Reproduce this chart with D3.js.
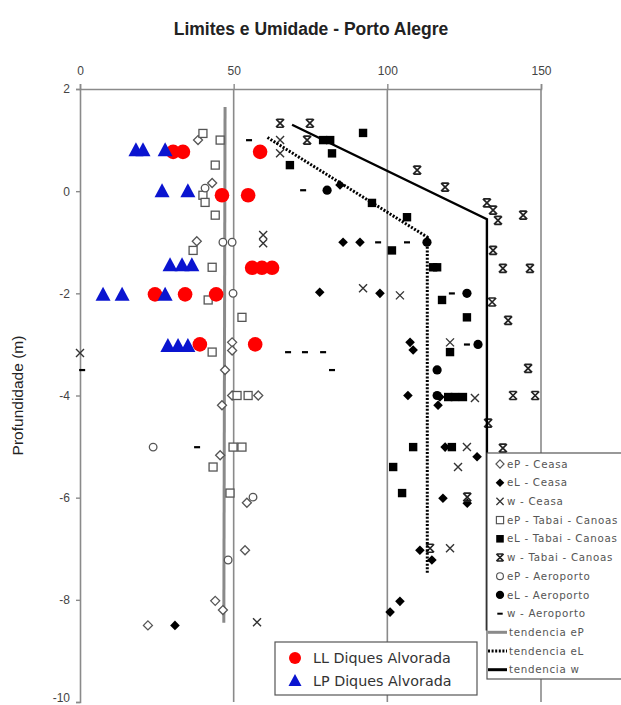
<!DOCTYPE html>
<html>
<head>
<meta charset="utf-8">
<script src="https://cdn.jsdelivr.net/npm/d3@7"></script>
<style>
  html, body { margin: 0; padding: 0; background: #fff; }
  svg { display: block; }
</style>
</head>
<body>
<svg id="chart" width="621" height="705"></svg>
<script>
// Tick values for both axes
const xTicks = [0, 50, 100, 150];
const yTicks = [2, 0, -2, -4, -6, -8, -10];

// Series: [moisture/limit value, depth (m)]
const epCeasa = [[38.4,1.0],[43,0.16],[38,-0.98],[49.5,-2.96],[49.5,-3.12],[47.2,-3.5],[49.5,-4.0],[58,-4.0],
  [46.2,-4.19],[45.6,-5.17],[54.3,-6.1],[53.7,-7.03],[44,-8.02],[46.5,-8.2],[22.1,-8.5]];
const elCeasa = [[84.6,0.12],[85.6,-1.0],[91.1,-1.0],[78,-1.98],[97.6,-2.0],[107.4,-2.96],[108.4,-3.11],
  [106.7,-4.0],[116.5,-4.19],[117.1,-4.03],[118.8,-5.01],[129.2,-5.2],[118.1,-6.01],[126,-6.11],
  [110.6,-7.03],[114.5,-7.22],[100.9,-8.24],[104.1,-8.03],[30.9,-8.5]];
const wCeasa = [[65.1,1.0],[65.1,0.74],[59.6,-0.86],[59.6,-1.02],[92.1,-1.9],[104.1,-2.04],[120.4,-2.96],
  [0,-3.17],[128.5,-4.05],[125.9,-5.01],[123,-5.4],[120.4,-6.99],[57.6,-8.44]];
const epTabai = [[40,1.13],[45.6,1.0],[44,0.51],[40,-0.08],[40.7,-0.22],[44,-0.47],[36.8,-1.16],[43,-1.49],
  [41.7,-2.13],[52.7,-2.47],[43,-3.15],[51.1,-4.0],[54.7,-4.0],[49.8,-5.01],[52.7,-5.01],[43.3,-5.4],[48.8,-5.91]];
const elTabai = [[79.1,1.0],[81.4,1.0],[92.1,1.14],[82,0.74],[68.3,0.51],[95,-0.23],[106.4,-0.51],[101.5,-1.16],
  [114.9,-1.49],[116.2,-1.49],[117.8,-2.13],[125.9,-2.47],[120.4,-3.15],[119.8,-4.03],[122,-4.03],[124.6,-4.03],
  [108.4,-5.01],[121,-5.01],[101.9,-5.4],[104.8,-5.91]];
const wTabai = [[65.1,1.33],[74.8,1.33],[73.9,1.0],[109.7,0.41],[118.8,0.08],[132.4,-0.23],[134.4,-0.37],
  [136,-0.57],[144.2,-0.47],[134.4,-1.16],[137.6,-1.51],[146.4,-1.51],[134.1,-2.17],[139.3,-2.53],
  [145.8,-3.47],[140.9,-4.0],[148.1,-4.0],[132.8,-4.54],[137.6,-5.03],[126,-5.99],[113.9,-6.99]];
const epAeroporto = [[46.5,-1.0],[49.5,-1.0],[49.8,-2.0],[23.8,-5.01],[56.3,-5.99],[40.7,0.06],[48.2,-7.22]];
const elAeroporto = [[80.4,0.02],[112.9,-1.0],[125.9,-2.0],[129.5,-3.0],[116.2,-3.5],[116.2,-4.0]];
const wAeroporto = [[55,1.0],[72.6,0.02],[97,-1.0],[106.4,-1.0],[121,-2.0],[125.9,-3.0],[67.7,-3.15],
  [73.2,-3.15],[79.1,-3.15],[82,-3.5],[0.7,-3.5],[38.1,-5.01]];
const llDiques = [[30.3,0.77],[33.5,0.77],[58.6,0.77],[46.2,-0.08],[54.7,-0.08],[56,-1.5],[59.2,-1.5],[62.5,-1.5],
  [24.4,-2.02],[34.2,-2.02],[44.3,-2.02],[39,-3.0],[57,-3.0]];
const lpDiques = [[18.2,0.8],[20.5,0.8],[27.7,0.8],[26.7,0.0],[35.1,0.0],[29.3,-1.45],[33.2,-1.45],[36.4,-1.45],
  [7.5,-2.03],[13.7,-2.03],[27.7,-2.03],[28.6,-3.03],[31.9,-3.03],[35.1,-3.03]];

// Trend lines
const trendEP = [[47.2,1.65],[46.8,-8.45]];
const trendWL = [[61,1.05],[113,-0.9],[113,-7.5]];
const trendW = [[69,1.3],[132.4,-0.55],[132.4,-8.6]];

// Legend labels
const legendLabels = ["eP - Ceasa","eL - Ceasa","w - Ceasa","eP - Tabai - Canoas","eL - Tabai - Canoas",
  "w - Tabai - Canoas","eP - Aeroporto","eL - Aeroporto","w - Aeroporto","tendencia eP","tendencia eL","tendencia w"];
const diquesLabels = ["LL Diques Alvorada","LP Diques Alvorada"];

const svg = d3.select("#chart");
const font = "'Liberation Sans', Arial, sans-serif";
const x = d3.scaleLinear().domain([0, 150]).range([80, 541]);
const y = d3.scaleLinear().domain([-10, 2]).range([702, 89]);
const gridColor = "#8a8a8a";

// Title
svg.append("text").attr("x", 311).attr("y", 35).attr("text-anchor", "middle")
  .attr("font-family", font).attr("font-weight", "bold").attr("font-size", 17.5)
  .attr("fill", "#222").text("Limites e Umidade - Porto Alegre");

// Vertical grid lines
svg.append("g").selectAll("line").data(xTicks.slice(1)).join("line")
  .attr("x1", d => x(d)).attr("x2", d => x(d)).attr("y1", y(2)).attr("y2", y(-10))
  .attr("stroke", gridColor).attr("stroke-width", 1.6);

// Top x axis
const xAxis = svg.append("g").attr("transform", `translate(0,${y(2)})`)
  .call(d3.axisTop(x).tickValues(xTicks).tickSize(5).tickPadding(9).tickFormat(d => String(d)));
xAxis.select(".domain").attr("stroke", gridColor).attr("stroke-width", 1.6);
xAxis.selectAll(".tick line").attr("stroke", gridColor).attr("stroke-width", 1.4);
xAxis.selectAll("text").attr("font-family", font).attr("font-size", 12).attr("fill", "#444");

// Left y axis
const yAxis = svg.append("g").attr("transform", `translate(${x(0)},0)`)
  .call(d3.axisLeft(y).tickValues(yTicks).tickSize(4).tickPadding(6).tickFormat(d => String(d)));
yAxis.select(".domain").attr("stroke", gridColor).attr("stroke-width", 1.6);
yAxis.selectAll(".tick line").attr("stroke", gridColor).attr("stroke-width", 1.4);
yAxis.selectAll("text").attr("font-family", font).attr("font-size", 12).attr("fill", "#444");
// keep the bottom label inside the frame
yAxis.selectAll(".tick").filter(d => d === -10).select("text").attr("dy", "-0.05em");

// Y axis title
svg.append("text").attr("transform", `translate(23,${(y(2)+y(-10))/2}) rotate(-90)`)
  .attr("text-anchor", "middle").attr("font-family", font).attr("font-size", 15.5)
  .attr("fill", "#222").text("Profundidade (m)");

// Marker shapes
function marker(g, kind) {
  const dark = "#222", grey = "#555";
  switch (kind) {
    case "diamondOpen":
      g.append("path").attr("d", "M0,-4.5L4.5,0L0,4.5L-4.5,0Z").attr("fill", "#fff").attr("stroke", grey).attr("stroke-width", 1.3); break;
    case "diamondFilled":
      g.append("path").attr("d", "M0,-4.8L4.8,0L0,4.8L-4.8,0Z").attr("fill", "#000"); break;
    case "squareOpen":
      g.append("rect").attr("x", -4).attr("y", -4).attr("width", 8).attr("height", 8).attr("fill", "#fff").attr("stroke", grey).attr("stroke-width", 1.3); break;
    case "squareFilled":
      g.append("rect").attr("x", -4.2).attr("y", -4.2).attr("width", 8.4).attr("height", 8.4).attr("fill", "#000"); break;
    case "x":
      g.append("path").attr("d", "M-4,-4L4,4M-4,4L4,-4").attr("stroke", "#333").attr("stroke-width", 1.4); break;
    case "star":
      g.append("path").attr("d", "M-4,-4L4,4M-4,4L4,-4M-3.5,-4H3.5M-3.5,4H3.5").attr("stroke", dark).attr("stroke-width", 1.7); break;
    case "circleOpen":
      g.append("circle").attr("r", 3.8).attr("fill", "#fff").attr("stroke", grey).attr("stroke-width", 1.3); break;
    case "circleFilled":
      g.append("circle").attr("r", 4.6).attr("fill", "#000"); break;
    case "dash":
      g.append("rect").attr("x", -3).attr("y", -1).attr("width", 6).attr("height", 2.2).attr("fill", "#000"); break;
    case "red":
      g.append("circle").attr("r", 7.3).attr("fill", "#ff0000"); break;
    case "blue":
      g.append("path").attr("d", "M0,-8L7.5,6L-7.5,6Z").attr("fill", "#0a14d0"); break;
  }
}

function drawSeries(data, kind) {
  svg.append("g").selectAll("g").data(data).join("g")
    .attr("transform", d => `translate(${x(d[0])},${y(d[1])})`)
    .each(function () { marker(d3.select(this), kind); });
}

const line = d3.line().x(d => x(d[0])).y(d => y(d[1]));

// Trend lines under markers
svg.append("path").datum(trendEP).attr("d", line).attr("fill", "none").attr("stroke", "#8a8a8a").attr("stroke-width", 3);

drawSeries(epCeasa, "diamondOpen");
drawSeries(elCeasa, "diamondFilled");
drawSeries(wCeasa, "x");
drawSeries(epTabai, "squareOpen");
drawSeries(elTabai, "squareFilled");
drawSeries(wTabai, "star");
drawSeries(epAeroporto, "circleOpen");
drawSeries(elAeroporto, "circleFilled");
drawSeries(wAeroporto, "dash");

svg.append("path").datum(trendWL).attr("d", line).attr("fill", "none").attr("stroke", "#000")
  .attr("stroke-width", 3).attr("stroke-dasharray", "2,1.6");
svg.append("path").datum(trendW).attr("d", line).attr("fill", "none").attr("stroke", "#000").attr("stroke-width", 2.4);

drawSeries(llDiques, "red");
drawSeries(lpDiques, "blue");

// Series legend
const lg = svg.append("g").attr("transform", "translate(487,453)");
lg.append("rect").attr("width", 140).attr("height", 226).attr("fill", "#fff").attr("stroke", "#555").attr("stroke-width", 1.2);
const legendKinds = ["diamondOpen","diamondFilled","x","squareOpen","squareFilled","star","circleOpen","circleFilled","dash"];
legendLabels.forEach((lab, i) => {
  const yy = 11 + i * 18.7;
  if (i < 9) {
    const m = lg.append("g").attr("transform", `translate(13,${yy}) scale(0.9)`);
    marker(m, legendKinds[i]);
  } else {
    const ln = lg.append("line").attr("x1", 1).attr("x2", 20).attr("y1", yy).attr("y2", yy);
    if (i === 9) ln.attr("stroke", "#8a8a8a").attr("stroke-width", 3);
    if (i === 10) ln.attr("stroke", "#000").attr("stroke-width", 3).attr("stroke-dasharray", "2,1.6");
    if (i === 11) ln.attr("stroke", "#000").attr("stroke-width", 3);
  }
  lg.append("text").attr("x", i < 9 ? 20 : 22).attr("y", yy).attr("dy", "0.35em")
    .attr("font-family", "'DejaVu Sans', sans-serif").attr("font-size", 10.3).attr("letter-spacing", 0.7)
    .attr("fill", "#555").text(lab);
});

// Diques legend
const lg2 = svg.append("g").attr("transform", "translate(275,642)");
lg2.append("rect").attr("width", 202).attr("height", 53).attr("fill", "#fff").attr("stroke", "#555").attr("stroke-width", 1.2);
diquesLabels.forEach((lab, i) => {
  const yy = 16 + i * 23;
  const m = lg2.append("g").attr("transform", `translate(20,${yy})`);
  if (i === 0) m.append("circle").attr("r", 6).attr("fill", "#ff0000");
  else m.append("path").attr("d", "M0,-7L6.5,5L-6.5,5Z").attr("fill", "#0a14d0");
  lg2.append("text").attr("x", 38).attr("y", yy).attr("dy", "0.36em")
    .attr("font-family", "'DejaVu Sans', sans-serif").attr("font-size", 14.3).attr("fill", "#333").text(lab);
});
</script>
</body>
</html>
